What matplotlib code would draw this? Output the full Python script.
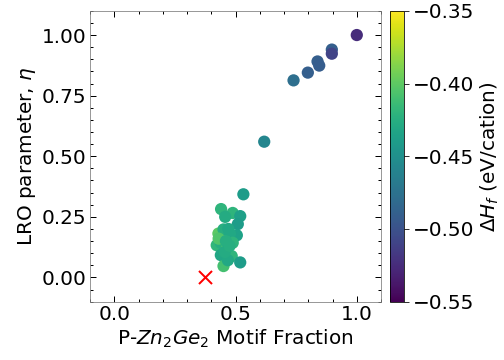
import numpy as np
import matplotlib
matplotlib.use("Agg")
import matplotlib.pyplot as plt
from matplotlib.ticker import MultipleLocator

# P-Zn2Ge2 motif fraction, LRO parameter and formation enthalpy
motif_frac = [1.000, 0.897, 0.897, 0.838, 0.845, 0.798, 0.739, 0.618, 0.532,
              0.440, 0.488, 0.519, 0.457, 0.509, 0.429, 0.450, 0.505, 0.477,
              0.422, 0.439, 0.488, 0.464, 0.439, 0.484, 0.519, 0.450, 0.468,
              0.430, 0.460, 0.470, 0.455, 0.475]
lro_eta = [1.000, 0.940, 0.923, 0.891, 0.874, 0.845, 0.813, 0.560, 0.343,
           0.282, 0.266, 0.253, 0.250, 0.220, 0.181, 0.198, 0.174, 0.181,
           0.133, 0.143, 0.143, 0.120, 0.092, 0.088, 0.062, 0.047, 0.071,
           0.160, 0.150, 0.200, 0.105, 0.130]
dH_f = [-0.525, -0.490, -0.510, -0.490, -0.492, -0.490, -0.478, -0.458, -0.440,
        -0.420, -0.420, -0.437, -0.428, -0.440, -0.400, -0.425, -0.435, -0.430,
        -0.418, -0.425, -0.420, -0.410, -0.432, -0.420, -0.440, -0.410, -0.430,
        -0.405, -0.425, -0.430, -0.428, -0.425]

# reference structure
ref_x = [0.374]
ref_y = [0.0]

fs = 20
plt.rcParams['font.family'] = ['DejaVu Sans']

fig = plt.figure(figsize=(7, 5), dpi=72)
ax = fig.add_axes([0.179, 0.162, 0.577, 0.808])
cax = fig.add_axes([0.774, 0.162, 0.028, 0.808])

sc = ax.scatter(motif_frac, lro_eta, c=dH_f, cmap='viridis', vmin=-0.55,
                vmax=-0.35, s=150, linewidths=0, zorder=3)
ax.scatter(ref_x, ref_y, marker='x', color='red', s=170, linewidths=2,
           zorder=4)

ax.set_xlim(-0.1, 1.1)
ax.set_ylim(-0.1, 1.1)
ax.xaxis.set_major_locator(MultipleLocator(0.5))
ax.xaxis.set_minor_locator(MultipleLocator(0.1))
ax.yaxis.set_major_locator(MultipleLocator(0.25))
ax.yaxis.set_minor_locator(MultipleLocator(0.05))
ax.tick_params(which='both', direction='in', top=True, right=True,
               labelsize=fs)
ax.tick_params(which='major', length=6, width=1)
ax.tick_params(which='minor', length=3, width=1)
for sp in ax.spines.values():
    sp.set_color('gray')

ax.set_xlabel(r'P-$Zn_2Ge_2$ Motif Fraction', fontsize=fs)
ax.set_ylabel(r'LRO parameter, $\eta$', fontsize=fs)

cb = fig.colorbar(sc, cax=cax)
cb.set_ticks(np.arange(-0.55, -0.34, 0.05))
cb.ax.tick_params(labelsize=fs, length=5)
cb.set_label(r'$\Delta H_f$ (eV/cation)', fontsize=fs)

fig.savefig('out.png', dpi=72)
